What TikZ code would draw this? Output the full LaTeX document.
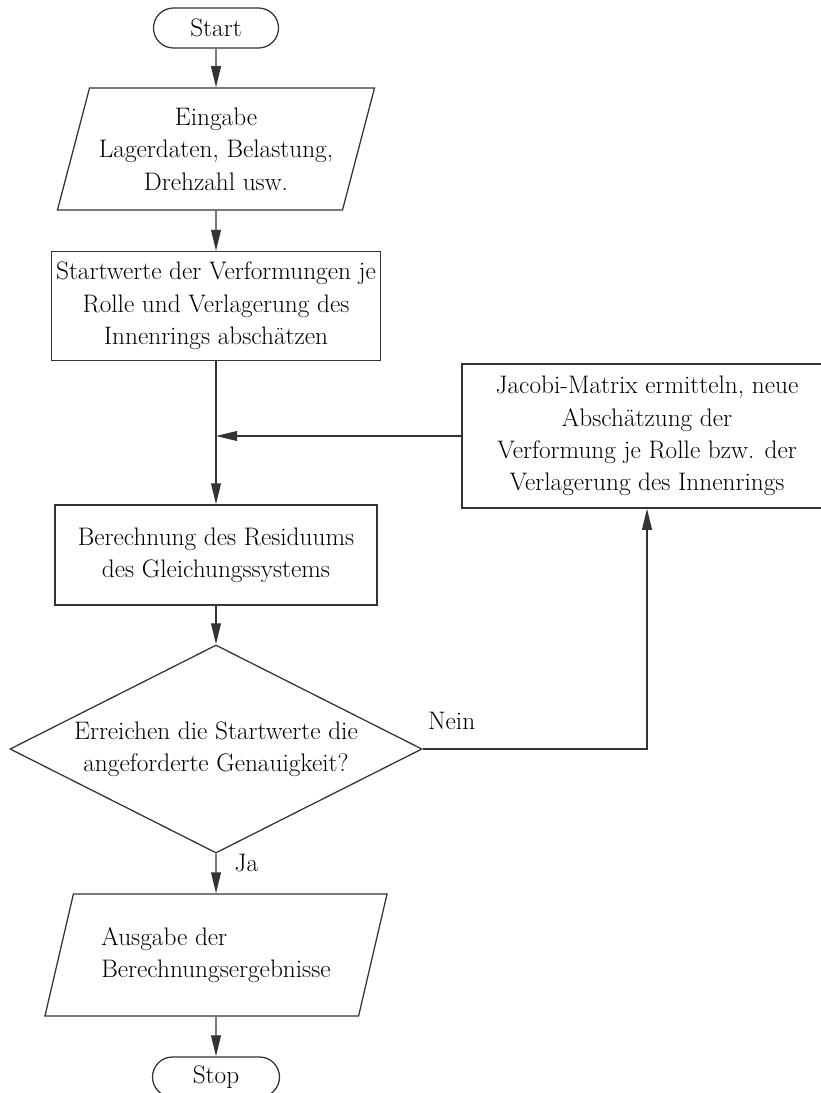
\documentclass[tikz,border=0pt]{standalone}
\usepackage{tikz}
\usetikzlibrary{arrows.meta, shapes.geometric, calc}

\begin{document}
\begin{tikzpicture}[
                x=0.025cm, y=-0.025cm,
                every node/.style={font=\fontsize{18}{23}\selectfont, text=black},
                line/.style={draw=black!80, line width=0.9pt},
                arr/.style={line, -{Triangle[length=15pt, width=7pt]}},
                term/.style={rectangle, line, rounded corners=0.5cm, minimum width=3.125cm, minimum height=1cm},
                io/.style={trapezium, line, trapezium stretches body, minimum height=3.05cm, align=center, inner sep=2pt},
                proc/.style={rectangle, line, minimum width=8.05cm, align=center},
                test/.style={diamond, line, shape aspect=2, minimum width=10.3cm, minimum height=5.2cm, align=center, inner sep=0pt},
                lbl/.style={inner sep=0pt}
            ]
                \useasboundingbox (0,0) rectangle (821,1093);

                \node[term] (start) at (216,28) {Start};
                \node[io, trapezium left angle=70, trapezium right angle=110, minimum width=7.925cm] (inp) at (216,149) {Eingabe\\Lagerdaten, Belastung,\\Drehzahl usw.};
                \node[proc, minimum height=2.725cm] (init) at (216,306) {Startwerte der Verformungen je\\Rolle und Verlagerung des\\Innenrings abschätzen};
                \node[proc, minimum height=2.5cm] (res) at (216,555) {Berechnung des Residuums\\des Gleichungssystems};
                \node[proc, minimum width=9.25cm, minimum height=3.6cm] (jac) at (647,436) {Jacobi-Matrix ermitteln, neue\\Abschätzung der\\Verformung je Rolle bzw. der\\Verlagerung des Innenrings};
                \node[test] (dec) at (216,749) {Erreichen die Startwerte die\\angeforderte Genauigkeit?};
                \node[io, trapezium left angle=65, trapezium right angle=115, minimum width=8.55cm, align=left] (outp) at (216,955) {Ausgabe der\\Berechnungsergebnisse};
                \node[term, minimum width=3.175cm] (stop) at (216,1077) {Stop};

                \coordinate (join) at (init.south |- jac.west);

                \draw[arr] (start) -- (inp);
                \draw[arr] (inp) -- (init);
                \draw[arr] (init) -- (res);
                \draw[arr] (jac.west) -- (join);
                \draw[arr] (res) -- (dec);
                \draw[arr] (dec.east) -| node[lbl, pos=0, anchor=base west, xshift=0.12cm, yshift=0.48cm] {Nein} (jac.south);
                \draw[arr] (dec) -- node[lbl, anchor=base west, xshift=0.45cm, yshift=0.06cm] {Ja} (outp);
                \draw[arr] (outp) -- (stop);
            \end{tikzpicture}
\end{document}
